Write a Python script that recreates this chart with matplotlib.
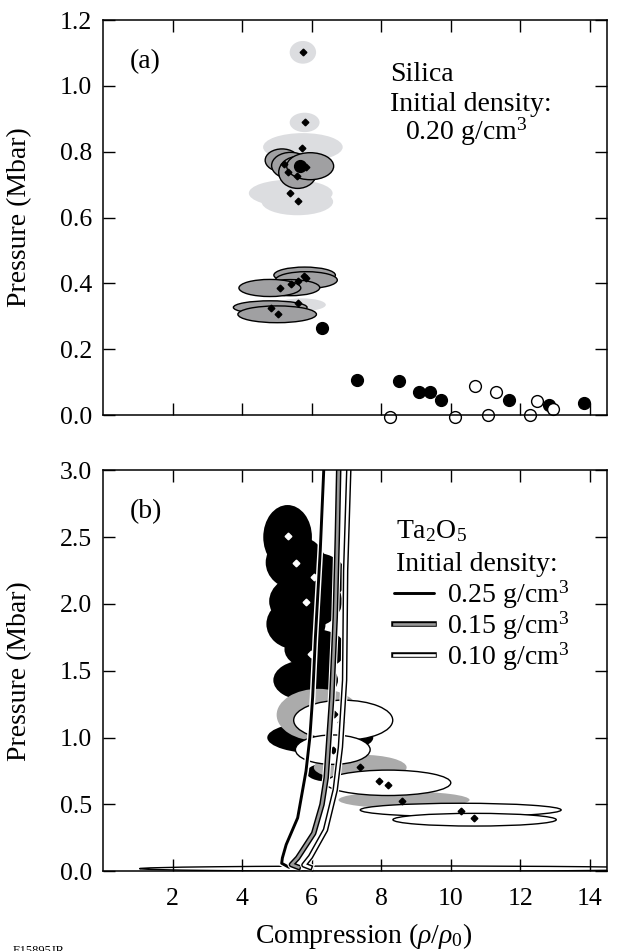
import matplotlib
matplotlib.use("Agg")
import matplotlib.pyplot as plt
import matplotlib.patheffects as pe
from matplotlib.patches import Ellipse
import numpy as np

plt.rcParams['font.family'] = ['Liberation Serif', 'DejaVu Serif']
plt.rcParams['mathtext.fontset'] = 'custom'
plt.rcParams['mathtext.rm'] = 'Liberation Serif'
plt.rcParams['mathtext.it'] = 'Liberation Serif:italic'

# ---- panel (a): silica, 0.20 g/cm3 ----
light_x = [5.75, 5.80, 5.75, 5.40, 5.59, 5.71]
light_y = [1.102, 0.889, 0.814, 0.674, 0.648, 0.335]
light_w = [0.76, 0.86, 2.29, 2.41, 2.06, 1.40]
light_h = [0.069, 0.059, 0.085, 0.082, 0.082, 0.039]

med_x = [5.15, 5.40, 5.60, 5.96, 5.80, 5.85, 5.39, 4.80, 4.81, 5.01]
med_y = [0.774, 0.758, 0.737, 0.756, 0.425, 0.410, 0.387, 0.386, 0.327, 0.306]
med_w = [0.97, 1.10, 1.09, 1.35, 1.77, 1.78, 1.69, 1.78, 2.12, 2.26]
med_h = [0.069, 0.080, 0.097, 0.082, 0.049, 0.051, 0.049, 0.052, 0.040, 0.051]

dia_a_x = [5.75, 5.80, 5.72, 5.22, 5.32, 5.59, 5.83, 5.39, 5.60,
           5.08, 5.42, 5.61, 5.78, 5.83, 5.61, 4.82, 5.03]
dia_a_y = [1.102, 0.889, 0.811, 0.763, 0.738, 0.727, 0.755, 0.674, 0.651,
           0.387, 0.397, 0.408, 0.423, 0.415, 0.339, 0.325, 0.307]

filled_x = [5.66, 6.29, 7.32, 8.52, 9.10, 9.42, 9.71, 11.69, 12.82, 13.85]
filled_y = [0.758, 0.263, 0.106, 0.103, 0.069, 0.069, 0.047, 0.047, 0.029, 0.035]
open_x = [8.27, 10.13, 10.71, 11.08, 11.32, 12.27, 12.48, 12.94]
open_y = [-0.007, -0.005, 0.089, 0.001, 0.070, 0.001, 0.043, 0.019]

# ---- panel (b): Ta2O5 ----
black_x = [5.31, 5.54, 6.06, 5.83, 5.55, 6.11, 5.83, 6.25, 6.50]
black_y = [2.50, 2.31, 2.20, 2.02, 1.85, 1.66, 1.43, 1.00, 0.74]
black_w = [1.40, 1.72, 1.93, 2.10, 1.70, 1.78, 1.86, 3.05, 1.30]
black_h = [0.48, 0.40, 0.37, 0.41, 0.38, 0.30, 0.30, 0.24, 0.14]

gray_x = [6.20, 7.40, 8.66]
gray_y = [1.17, 0.777, 0.534]
gray_w = [2.41, 2.67, 3.77]
gray_h = [0.39, 0.19, 0.125]

white_x = [6.91, 6.61, 8.20, 10.29, 10.69, 8.6]
white_y = [1.13, 0.91, 0.662, 0.459, 0.386, 0.02]
white_w = [2.85, 2.15, 3.61, 5.78, 4.70, 15.1]
white_h = [0.30, 0.22, 0.19, 0.10, 0.095, 0.04]

bd_x = [6.64, 6.85, 6.62, 7.40, 7.94, 8.21, 8.60, 10.29, 10.68]
bd_y = [1.175, 1.12, 0.908, 0.778, 0.676, 0.646, 0.528, 0.454, 0.397]
wd_x = [5.32, 5.54, 6.06, 5.83, 5.97]
wd_y = [2.505, 2.305, 2.20, 2.018, 1.624]

c25_x = [5.35, 5.14, 5.16, 5.27, 5.60, 5.84, 5.95, 6.03, 6.11, 6.25, 6.35, 6.38]
c25_y = [0.03, 0.06, 0.10, 0.20, 0.40, 0.75, 1.00, 1.30, 1.75, 2.40, 3.00, 3.10]
c15_x = [5.62, 5.42, 5.60, 6.06, 6.30, 6.42, 6.50, 6.58, 6.68, 6.74, 6.78, 6.80]
c15_y = [0.03, 0.05, 0.10, 0.284, 0.50, 0.70, 1.00, 1.30, 1.90, 2.50, 3.00, 3.10]
c10_x = [5.95, 5.78, 5.97, 6.40, 6.68, 6.83, 6.95, 6.98, 7.07, 7.08]
c10_y = [0.03, 0.047, 0.109, 0.309, 0.608, 0.93, 1.43, 2.25, 3.00, 3.10]

xticks = [2, 4, 6, 8, 10, 12, 14]

LIGHT = '#dcdde0'
MED = '#a0a0a2'
GRAY_B = '#ababab'
FS = 20


def add_ellipses(ax, xs, ys, ws, hs, face, edge='none', lw=1.0):
    for x, y, w, h in zip(xs, ys, ws, hs):
        ax.add_patch(Ellipse((x, y), w, h, facecolor=face, edgecolor=edge, lw=lw))


def style_axis(ax):
    ax.tick_params(direction='in', length=8.5, width=1.0, top=True, right=True,
                   labelsize=18.5, pad=8)
    ax.tick_params(axis='x', pad=12)
    for s in ax.spines.values():
        s.set_linewidth(1.1)


fig = plt.figure(figsize=(6.21, 9.51), dpi=100)
ax1 = fig.add_axes([0.1659, 0.5636, 0.8116, 0.4153])
ax2 = fig.add_axes([0.1659, 0.0838, 0.8116, 0.4217])

# panel (a)
add_ellipses(ax1, light_x, light_y, light_w, light_h, LIGHT)
add_ellipses(ax1, med_x, med_y, med_w, med_h, MED, 'black', 1.0)
ax1.plot(dia_a_x, dia_a_y, 'D', color='black', ms=3.4, ls='none')
ax1.plot(filled_x, filled_y, 'o', color='black', ms=8.5, ls='none', clip_on=False)
ax1.plot(open_x, open_y, 'o', mfc='white', mec='black', mew=1.0, ms=8.5,
         ls='none', clip_on=False)

ax1.set_xlim(0, 14.5)
ax1.set_ylim(0, 1.2)
ax1.set_xticks(xticks)
ax1.set_xticklabels([])
ax1.set_yticks(np.arange(0, 1.21, 0.2))
ax1.set_yticklabels([f'{v:.1f}' for v in np.arange(0, 1.21, 0.2)])
ax1.set_ylabel('Pressure (Mbar)', fontsize=FS)
ax1.yaxis.set_label_coords(-0.14, 0.5)
style_axis(ax1)

ax1.text(0.054, 0.878, '(a)', transform=ax1.transAxes, fontsize=FS, va='baseline')
ax1.text(0.569, 0.846, 'Silica', transform=ax1.transAxes, fontsize=FS, va='baseline')
ax1.text(0.569, 0.770, 'Initial density:', transform=ax1.transAxes, fontsize=FS,
         va='baseline')
ax1.text(0.599, 0.697, '0.20 g/cm$^3$', transform=ax1.transAxes, fontsize=FS,
         va='baseline')

# panel (b)
add_ellipses(ax2, black_x, black_y, black_w, black_h, 'black')
add_ellipses(ax2, gray_x, gray_y, gray_w, gray_h, GRAY_B)
add_ellipses(ax2, white_x, white_y, white_w, white_h, 'white', 'black', 1.0)
ax2.plot(bd_x, bd_y, 'D', color='black', ms=3.4, ls='none')
ax2.plot(wd_x, wd_y, 'D', color='white', ms=3.4, ls='none')

l25, = ax2.plot(c25_x, c25_y, color='black', lw=2.1, solid_capstyle='round',
                label='0.25 g/cm$^3$',
                path_effects=[pe.Stroke(linewidth=4.2, foreground='white'), pe.Normal()])
l15, = ax2.plot(c15_x, c15_y, color='#9a9a9a', lw=1.9, label='0.15 g/cm$^3$',
                path_effects=[pe.Stroke(linewidth=5.6, foreground='white'),
                              pe.Stroke(linewidth=4.0, foreground='black'), pe.Normal()])
l10, = ax2.plot(c10_x, c10_y, color='white', lw=1.9, label='0.10 g/cm$^3$',
                path_effects=[pe.Stroke(linewidth=5.6, foreground='white'),
                              pe.Stroke(linewidth=4.0, foreground='black'), pe.Normal()])

ax2.set_xlim(0, 14.5)
ax2.set_ylim(0, 3.0)
ax2.set_xticks(xticks)
ax2.set_yticks(np.arange(0, 3.01, 0.5))
ax2.set_yticklabels([f'{v:.1f}' for v in np.arange(0, 3.01, 0.5)])
ax2.set_ylabel('Pressure (Mbar)', fontsize=FS)
ax2.yaxis.set_label_coords(-0.14, 0.5)
ax2.set_xlabel(r'Compression ($\rho/\rho_0$)', fontsize=FS)
ax2.xaxis.set_label_coords(0.518, -0.125)
style_axis(ax2)

ax2.text(0.054, 0.880, '(b)', transform=ax2.transAxes, fontsize=FS, va='baseline')
ax2.text(0.581, 0.830, 'Ta$_2$O$_5$', transform=ax2.transAxes, fontsize=FS,
         va='baseline')
ax2.text(0.581, 0.750, 'Initial density:', transform=ax2.transAxes, fontsize=FS,
         va='baseline')
ax2.legend(handles=[l25, l15, l10], loc='upper left', bbox_to_anchor=(0.577, 0.730),
           frameon=False, fontsize=FS, handlelength=1.45, handletextpad=0.45,
           labelspacing=-0.05, borderpad=0, borderaxespad=0)

fig.text(0.02, 0.0063, 'E15895JR', fontsize=9, va='top')

fig.savefig('out.png', dpi=100)
